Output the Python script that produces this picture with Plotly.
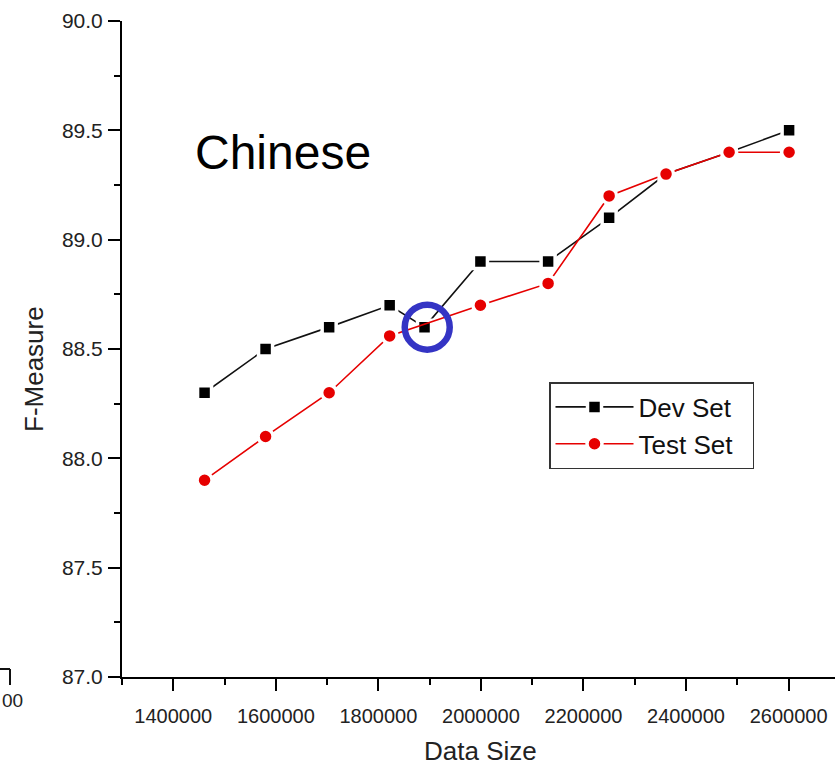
import plotly.graph_objects as go

# ---- data ----
dev_x = [1461000, 1580000, 1704000, 1822000, 1890000, 1999000, 2131000, 2250000, 2361000, 2484000, 2601000]
dev_y = [88.30, 88.50, 88.60, 88.70, 88.60, 88.90, 88.90, 89.10, 89.30, 89.40, 89.50]
test_x = [1461000, 1580000, 1704000, 1822000, 1999000, 2131000, 2250000, 2361000, 2484000, 2601000]
test_y = [87.90, 88.10, 88.30, 88.56, 88.70, 88.80, 89.20, 89.30, 89.40, 89.40]
x_ticks = [1400000, 1600000, 1800000, 2000000, 2200000, 2400000, 2600000]
x_ticktext = [str(v) for v in x_ticks]
y_ticks = [87.0, 87.5, 88.0, 88.5, 89.0, 89.5, 90.0]
y_ticktext = ["%.1f" % v for v in y_ticks]
highlight_x, highlight_y = 1890000, 88.60

W, H = 835, 767
L, R, T, B = 122, 0, 21, 90
PW, PH = W - L - R, H - T - B


def px(xp):
    return (xp - L) / PW


def py(yp):
    return (H - B - yp) / PH


FONT = "Liberation Sans, Arial, sans-serif"
PAD = "\u00a0\u00a0"

fig = go.Figure()
fig.add_trace(go.Scatter(
    x=dev_x, y=dev_y, name="Dev Set" + PAD, mode="lines+markers",
    line=dict(color="#111111", width=1.6),
    marker=dict(symbol="square", size=14, color="#000000",
                line=dict(color="white", width=3.5)),
))
fig.add_trace(go.Scatter(
    x=test_x, y=test_y, name="Test Set" + PAD, mode="lines+markers",
    line=dict(color="#e60000", width=1.6),
    marker=dict(symbol="circle", size=15, color="#e60000",
                line=dict(color="white", width=3.5)),
))

# blue highlight circle around the dip of the dev set
fig.add_shape(type="circle", xref="x", yref="y", xsizemode="pixel", ysizemode="pixel",
              xanchor=highlight_x, yanchor=highlight_y,
              x0=-19.8, x1=25.2, y0=-22.5, y1=22.5,
              line=dict(color="#3434c4", width=6.5))

# fragment of a neighbouring chart at the bottom-left edge
fig.add_shape(type="line", xref="paper", yref="paper",
              x0=px(0), x1=px(10), y0=py(669), y1=py(669),
              line=dict(color="#111111", width=2))
fig.add_shape(type="line", xref="paper", yref="paper",
              x0=px(10), x1=px(10), y0=py(669), y1=py(685),
              line=dict(color="#111111", width=2))
fig.add_annotation(text="00", xref="paper", yref="paper", x=px(0), y=py(700),
                   xanchor="left", yanchor="middle", showarrow=False,
                   font=dict(family=FONT, size=19, color="#222222"))

fig.add_annotation(text="Chinese", xref="paper", yref="paper", x=px(193), y=py(153),
                   xanchor="left", yanchor="middle", showarrow=False,
                   font=dict(family=FONT, size=48, color="#000000"))
fig.add_annotation(text="F-Measure", xref="paper", yref="paper", x=px(34), y=py(369),
                   xanchor="center", yanchor="middle", textangle=-90, showarrow=False,
                   font=dict(family=FONT, size=26, color="#222222"))
fig.add_annotation(text="Data Size", xref="paper", yref="paper", x=px(480), y=py(751),
                   xanchor="center", yanchor="middle", showarrow=False,
                   font=dict(family=FONT, size=26, color="#222222"))

fig.update_layout(
    width=W, height=H,
    margin=dict(l=L, r=R, t=T, b=B, pad=0),
    paper_bgcolor="white", plot_bgcolor="white",
    showlegend=True,
    legend=dict(x=px(549), y=py(382), xanchor="left", yanchor="top",
                bgcolor="white", bordercolor="#333333", borderwidth=1.5,
                font=dict(family=FONT, size=26, color="#111111"),
                itemwidth=78, tracegroupgap=0),
    font=dict(family=FONT),
)
fig.update_xaxes(
    range=[1300000, 2690500], showgrid=False, zeroline=False,
    showline=True, linecolor="#000000", linewidth=2,
    tickmode="array", tickvals=x_ticks, ticktext=x_ticktext,
    ticks="outside", ticklen=12, tickwidth=2, tickcolor="#000000",
    tickfont=dict(family=FONT, size=20, color="#222222"),
    ticklabelstandoff=8,
    minor=dict(dtick=100000, tick0=1300000, ticks="outside", ticklen=6,
               tickwidth=2, tickcolor="#000000", showgrid=False),
)
fig.update_yaxes(
    range=[87.0, 90.0], showgrid=False, zeroline=False,
    showline=True, linecolor="#000000", linewidth=2,
    tickmode="array", tickvals=y_ticks, ticktext=y_ticktext,
    ticks="outside", ticklen=12, tickwidth=2, tickcolor="#000000",
    tickfont=dict(family=FONT, size=21, color="#222222"),
    ticklabelstandoff=1,
    minor=dict(dtick=0.25, tick0=87.0, ticks="outside", ticklen=6,
               tickwidth=2, tickcolor="#000000", showgrid=False),
)

fig.write_html("out.html", config={"displayModeBar": False},
               post_script="document.body.style.margin='0';document.body.style.overflow='hidden';")
